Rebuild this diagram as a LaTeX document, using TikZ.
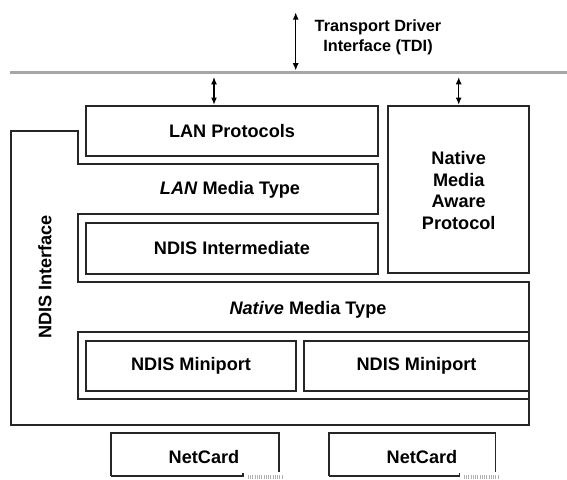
\documentclass[tikz,border=0pt]{standalone}
\usepackage{fontspec}
\setmainfont{Liberation Sans}
\usetikzlibrary{arrows.meta,fit,calc}
\begin{document}
\begin{tikzpicture}[x=0.75pt,y=-0.75pt,
  box/.style={draw=black!85, line width=1.3pt, inner sep=0pt},
  nobox/.style={inner sep=0pt},
  frame/.style={draw=black!85, line width=1.3pt},
  lbl/.style={font=\bfseries\fontsize{13.6}{16.1}\selectfont, inner sep=0pt, align=center},
  tdilbl/.style={font=\bfseries\fontsize{12.2}{14.8}\selectfont, inner sep=0pt, align=center},
  dbl/.style={{Latex[length=5.5pt,width=4.5pt]}-{Latex[length=5.5pt,width=4.5pt]}, line width=1pt, black},
  ticks/.style={draw=gray!60, line width=3pt, dash pattern=on 0.6pt off 1.1pt}
]
\useasboundingbox (0,0) rectangle (567,479);

% bus line (TDI)
\coordinate (busL) at (10,72.7);
\coordinate (busR) at (567,72.7);
\draw[line width=2.3pt, gray!70] (busL) -- (busR);

% outer NDIS interface frame
\draw[frame] (11,130.7) -- (77.7,130.7) -- (77.7,164) -- (377.7,164) -- (377.7,214.3)
  -- (77.7,214.3) -- (77.7,282.3) -- (529.3,282.3) -- (529.3,424.7) -- (11,424.7) -- cycle;
% miniport container
\draw[frame] (77.7,332.3) rectangle (529.3,399);

% boxes
\node[box, fit={(86,105.7) (377.7,155.7)}] (lp) {};
\node[lbl] (lpt) at (232,131) {LAN Protocols};

\node[box, fit={(388,105.7) (529.3,273.3)}] (nmap) {};
\node[lbl] (nmapt) at (458.7,190.5) {Native\\Media\\Aware\\Protocol};

\node[box, fit={(86,223.3) (377.7,274)}] (ni) {};
\node[lbl] (nit) at (232,248.5) {NDIS Intermediate};

\node[lbl] (lmt) at (230,190) {\textit{LAN} Media Type};
\node[lbl] (nmt) at (308,310) {\textit{Native} Media Type};

\node[box, fit={(86,340.7) (295.7,390.7)}] (mp1) {};
\node[lbl] (mp1t) at (191,366) {NDIS Miniport};
\node[box, fit={(304,340.7) (529.3,390.7)}] (mp2) {};
\node[lbl] (mp2t) at (416.5,366) {NDIS Miniport};

\node[lbl, rotate=90] (ndis) at (45,277) {NDIS Interface};

% TDI label and arrow
\node[tdilbl] (tdi) at (378,37) {Transport Driver\\Interface (TDI)};
\coordinate (tditop) at (295.7,12.3);
\draw[dbl, shorten >=1.6pt] (tditop) -- (tditop |- busL);

\coordinate (aL) at (214,72.7);
\coordinate (aR) at (458.7,72.7);
\draw[dbl, shorten <=3.2pt] (aL) -- (aL |- lp.north);
\draw[dbl, shorten <=3.2pt] (aR) -- (aR |- nmap.north);

% NetCards
\node[nobox, fit={(111,433) (279,475.7)}] (nc1) {};
\node[lbl] (nc1t) at (204,457.5) {NetCard};
\draw[frame] (nc1.south west) -- (nc1.north west) -- (nc1.north east) -- ($(nc1.south east)+(0,-4)$);
\draw[frame] (nc1.south west) -- ($(nc1.south west)+(132,0)$) -- ($(nc1.south west)+(132,-3)$);
\draw[ticks] ($(nc1.south west)+(137,1.5)$) -- ($(nc1.south west)+(172,1.5)$);

\node[nobox, fit={(329,433) (495.3,475.7)}] (nc2) {};
\node[lbl] (nc2t) at (422,457.5) {NetCard};
\draw[frame] (nc2.south west) -- (nc2.north west) -- (nc2.north east) -- ($(nc2.south east)+(0,-4)$);
\draw[frame] (nc2.south west) -- ($(nc2.south west)+(130.7,0)$) -- ($(nc2.south west)+(130.7,-3)$);
\draw[ticks] ($(nc2.south west)+(135,1.5)$) -- ($(nc2.south west)+(171,1.5)$);
\end{tikzpicture}
\end{document}
